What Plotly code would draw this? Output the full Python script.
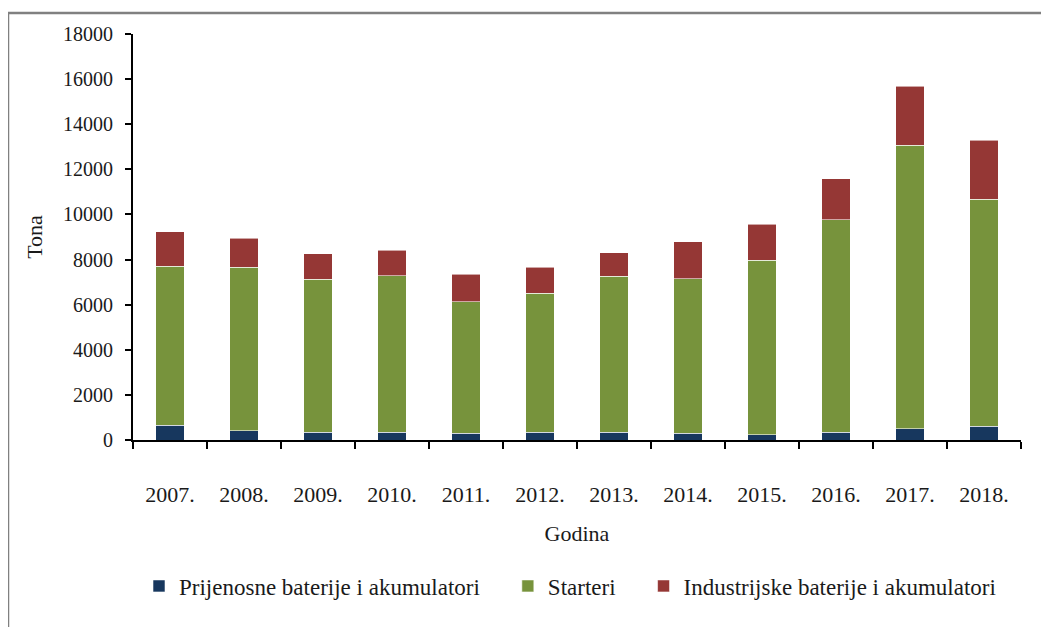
import plotly.graph_objects as go

years = ["2007.", "2008.", "2009.", "2010.", "2011.", "2012.",
         "2013.", "2014.", "2015.", "2016.", "2017.", "2018."]
prijenosne = [660, 400, 350, 350, 300, 350, 350, 300, 240, 350, 500, 610]
starteri = [7050, 7250, 6770, 6930, 5840, 6160, 6920, 6860, 7730, 9410, 12560, 10070]
industrijske = [1520, 1300, 1130, 1140, 1200, 1140, 1030, 1640, 1590, 1830, 2620, 2600]

series_names = ["Prijenosne baterije i akumulatori", "Starteri",
                "Industrijske baterije i akumulatori"]
colors = ["#17375E", "#77933C", "#953735"]

W, H = 1049, 627
OFF = 8  # page body offset
L, R, T, B = 133 - OFF, 28 + OFF, 34 - OFF, 187 + OFF
FONT = "Liberation Serif"
PAD = "\u00a0" * 4

fig = go.Figure()
for i, (name, vals, col) in enumerate(zip(series_names, [prijenosne, starteri, industrijske], colors)):
    fig.add_trace(go.Bar(
        x=years, y=vals, name=name + (PAD if i < 2 else ""),
        marker=dict(color=col, line=dict(color="rgba(255,255,255,0.7)", width=0.8)),
    ))

pw = W - L - R
ph = H - T - B
def px_x(p):  # page pixel -> paper
    return (p - OFF - L) / pw
def px_y(p):
    return (H - B - (p - OFF)) / ph

fig.update_layout(
    width=W, height=H,
    barmode="stack",
    bargap=0.61,
    margin=dict(l=L, r=R, t=T, b=B, autoexpand=False),
    paper_bgcolor="white",
    plot_bgcolor="white",
    font=dict(family=FONT, size=20, color="#1a1a1a"),
    showlegend=True,
    legend=dict(
        orientation="h",
        x=px_x(570), xanchor="center",
        y=px_y(586), yanchor="middle",
        font=dict(family=FONT, size=23, color="#1a1a1a"),
        traceorder="normal",
        itemwidth=30,
    ),
    xaxis=dict(
        type="category",
        showline=True, linecolor="black", linewidth=2,
        ticks="outside", ticklen=7, tickwidth=2, tickcolor="black",
        tickson="boundaries",
        ticklabelstandoff=34,
        tickfont=dict(family=FONT, size=22),
        showgrid=False, zeroline=False,
        title=dict(text="Godina", font=dict(family=FONT, size=22), standoff=19),
    ),
    yaxis=dict(
        range=[0, 18000], dtick=2000, tickformat="d",
        showline=True, linecolor="black", linewidth=2,
        ticks="outside", ticklen=6, tickwidth=2, tickcolor="black",
        ticklabelstandoff=8,
        tickfont=dict(family=FONT, size=20),
        showgrid=False, zeroline=False,
        title=dict(text="Tona", font=dict(family=FONT, size=22), standoff=14),
    ),
    shapes=[
        dict(type="line", xref="paper", yref="paper",
             x0=px_x(8), x1=px_x(1060), y0=px_y(13), y1=px_y(13),
             line=dict(color="#808080", width=2.5)),
        dict(type="line", xref="paper", yref="paper",
             x0=px_x(8), x1=px_x(8), y0=px_y(13), y1=px_y(640),
             line=dict(color="#808080", width=2.5)),
    ],
)

fig.write_html("out.html")
